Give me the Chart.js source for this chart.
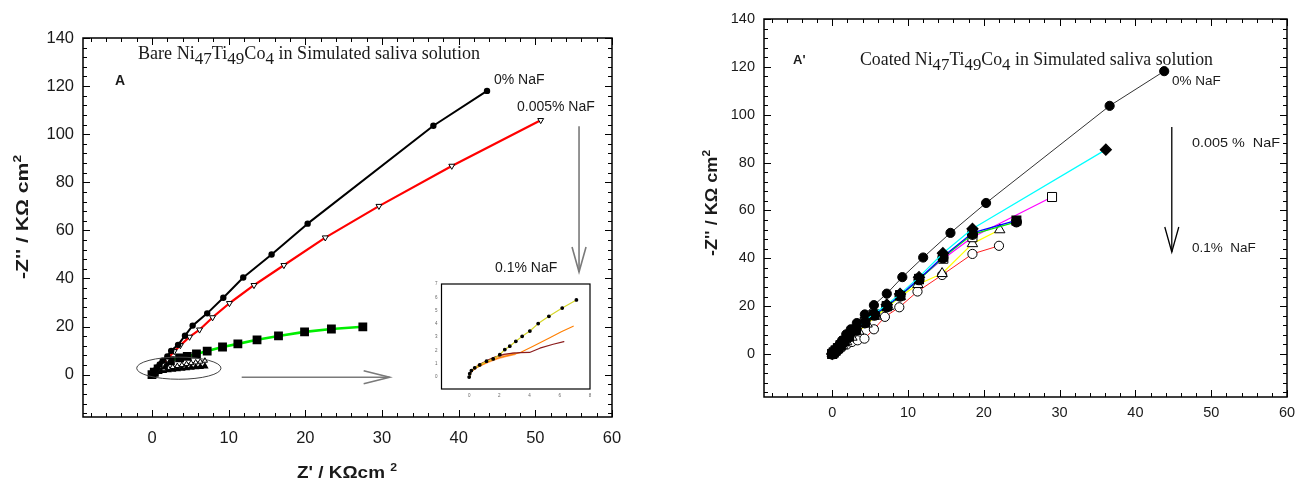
<!DOCTYPE html>
<html>
<head>
<meta charset="utf-8">
<script src="https://cdn.jsdelivr.net/npm/chart.js@4.4.1/dist/chart.umd.min.js"></script>
<style>
  html, body { margin: 0; padding: 0; background: #fff; }
  #wrap { position: relative; width: 1296px; height: 481px; overflow: hidden; background: #fff; }
  canvas { position: absolute; }
</style>
</head>
<body>
<div id="wrap">
  <canvas id="bare" width="648" height="481" style="left:0;top:0"></canvas>
  <canvas id="inset" width="180" height="130" style="left:420px;top:270px"></canvas>
  <canvas id="coated" width="648" height="481" style="left:648px;top:0"></canvas>
</div>
<script>
// ---- Panel A: bare Ni47Ti49Co4, Nyquist data (Z' , -Z'' in kOhm cm2) ----
const bare0X   = [0, 0.2, 0.4, 0.7, 1.0, 1.4, 2.0, 2.5, 3.4, 4.3, 5.3, 7.2, 9.3, 11.9, 15.6, 20.3, 36.7, 43.7];
const bare0Y   = [0, 0.8, 1.8, 3.0, 4.3, 5.8, 7.6, 9.9, 12.4, 16.2, 20.4, 25.5, 32.0, 40.4, 50.0, 62.8, 103.5, 118.0];
const bare005X = [0, 0.2, 0.5, 0.9, 1.4, 2.0, 2.9, 3.7, 4.9, 6.2, 7.9, 10.1, 13.3, 17.2, 22.6, 29.6, 39.1, 50.7];
const bare005Y = [0, 0.6, 1.5, 2.8, 4.4, 6.5, 9.7, 12.2, 15.7, 18.7, 23.8, 29.7, 37.2, 45.5, 57.0, 70.1, 86.8, 105.8];
const bare01X  = [0, 0.3, 0.8, 1.5, 2.4, 3.6, 4.6, 5.8, 7.2, 9.2, 11.2, 13.7, 16.5, 19.9, 23.4, 27.5];
const bare01Y  = [0, 1.0, 2.4, 4.0, 5.8, 7.0, 7.6, 8.6, 9.8, 11.5, 12.8, 14.5, 16.1, 17.8, 19.0, 19.9];
const bareLowX  = [0, 0.4, 0.9, 1.5, 2.1, 2.7, 3.3, 3.9, 4.5, 5.1, 5.7, 6.3, 6.9];
const bareLowAY = [0, 0.7, 1.2, 1.6, 1.9, 2.1, 2.3, 2.5, 2.7, 2.9, 3.1, 3.3, 3.5];
const bareLowBY = [0, 0.9, 1.7, 2.3, 2.8, 3.2, 3.6, 4.0, 4.4, 4.8, 5.1, 5.4, 5.8];
const bareXTicks = [0, 10, 20, 30, 40, 50, 60];
const bareYTicks = [0, 20, 40, 60, 80, 100, 120, 140];

// ---- Inset: low-impedance region of the higher NaF curves ----
const insetYelX = [0, 0.04, 0.15, 0.37, 0.7, 1.15, 1.59, 2.03, 2.36, 2.69, 3.09, 3.51, 4.02, 4.57, 5.28, 6.16, 7.1];
const insetYelY = [0, 0.25, 0.49, 0.69, 0.91, 1.19, 1.36, 1.68, 2.07, 2.32, 2.69, 3.06, 3.46, 4.02, 4.57, 5.19, 5.8];
const insetOrgX = [0, 0.05, 0.2, 0.5, 0.9, 1.4, 2.0, 2.7, 3.36, 4.2, 5.34, 6.1, 6.89];
const insetOrgY = [0, 0.2, 0.45, 0.7, 0.95, 1.2, 1.45, 1.65, 1.83, 2.3, 2.96, 3.4, 3.83];
const insetPchX = [0.6, 1.2, 1.8, 2.4, 3.0];
const insetPchY = [0.85, 1.15, 1.4, 1.6, 1.75];
const insetRedX = [0, 0.1, 0.3, 0.7, 1.2, 1.7, 2.3, 2.9, 3.36, 4.0, 4.68, 5.56, 6.27];
const insetRedY = [0, 0.35, 0.65, 0.95, 1.25, 1.5, 1.7, 1.8, 1.83, 1.85, 2.17, 2.47, 2.67];
const insetXTicks = [0, 2, 4, 6, 8];
const insetYTicks = [0, 1, 2, 3, 4, 5, 6, 7];

// ---- Panel A': coated Ni47Ti49Co4 ----
const coat0X   = [0, 0.15, 0.35, 0.6, 0.9, 1.3, 1.85, 2.45, 3.25, 4.3, 5.5, 7.2, 9.25, 12.0, 15.6, 20.3, 36.6, 43.8];
const coat0Y   = [0, 0.6, 1.4, 2.4, 3.6, 5.6, 8.2, 10.3, 12.9, 16.5, 20.4, 25.2, 32.1, 40.3, 50.6, 63.1, 103.7, 118.2];
const coatCyX  = [0, 0.2, 0.45, 0.75, 1.1, 1.6, 2.2, 3.1, 4.3, 5.55, 7.2, 8.95, 11.45, 14.6, 18.5, 36.1];
const coatCyY  = [0, 0.6, 1.5, 2.5, 3.8, 5.6, 7.8, 10.6, 13.9, 17.0, 20.6, 25.1, 32.1, 42.1, 52.3, 85.4];
const coatMgX  = [0, 0.2, 0.45, 0.75, 1.1, 1.6, 2.2, 3.1, 4.3, 5.55, 7.2, 8.95, 11.45, 14.66, 18.5, 29.0];
const coatMgY  = [0, 0.6, 1.4, 2.4, 3.6, 5.3, 7.4, 10.1, 13.3, 16.5, 20.0, 24.6, 31.4, 39.8, 48.8, 65.6];
const coatBlX  = [0, 0.2, 0.45, 0.75, 1.1, 1.6, 2.2, 3.1, 4.3, 5.55, 7.2, 8.95, 11.45, 14.6, 18.5, 24.3];
const coatBlY  = [0, 0.6, 1.4, 2.4, 3.6, 5.3, 7.3, 10.0, 13.2, 16.4, 19.9, 24.4, 31.2, 40.6, 50.6, 55.8];
const coatGrY  = [0, 0.6, 1.4, 2.3, 3.5, 5.2, 7.2, 9.9, 13.0, 16.2, 19.7, 24.2, 31.0, 40.2, 50.0, 55.2];
const coatYeX  = [0, 0.25, 0.55, 0.9, 1.35, 1.9, 2.6, 3.5, 4.6, 5.8, 7.4, 9.0, 11.3, 14.5, 18.5, 22.1];
const coatYeY  = [0, 0.6, 1.4, 2.4, 3.6, 5.1, 7.0, 9.5, 12.5, 15.8, 19.8, 24.0, 29.0, 33.6, 46.1, 51.9];
const coatRdX  = [0, 0.3, 0.7, 1.2, 1.9, 2.6, 3.35, 4.25, 5.5, 6.95, 8.85, 11.25, 14.5, 18.5, 22.0];
const coatRdY  = [0, 0.6, 1.5, 2.6, 3.9, 5.0, 5.7, 6.4, 10.3, 15.5, 19.5, 26.1, 33.0, 41.8, 45.2];
const coatXTicks = [0, 10, 20, 30, 40, 50, 60];
const coatYTicks = [0, 20, 40, 60, 80, 100, 120, 140];

const SANS = '"Liberation Sans", Arial, sans-serif';
const SERIF = '"Liberation Serif", "Times New Roman", serif';

function toPts(xs, ys) { return xs.map((x, i) => ({ x, y: ys[i] })); }
function series(xs, ys, o) {
  return Object.assign({ data: toPts(xs, ys), showLine: true, fill: false, tension: 0, pointHoverRadius: 0 }, o);
}
function fixedTicks(values) { return s => { s.ticks = values.map(v => ({ value: v })); }; }
// fixed scale box size, no extra room requested for overhanging labels
function fixedBox(prop, size) {
  return s => { s[prop] = size; s.paddingLeft = 0; s.paddingRight = 0; s.paddingTop = 0; s.paddingBottom = 0; };
}

function seg(ctx, x1, y1, x2, y2) { ctx.beginPath(); ctx.moveTo(x1, y1); ctx.lineTo(x2, y2); ctx.stroke(); }

// box around the plot area with inward ticks on all four sides
function drawFrame(chart, o) {
  const { ctx, chartArea: a, scales: { x, y } } = chart;
  ctx.save();
  ctx.strokeStyle = '#000';
  ctx.lineWidth = o.frameWidth;
  ctx.strokeRect(a.left, a.top, a.right - a.left, a.bottom - a.top);
  ctx.lineWidth = 1;
  const i0x = Math.ceil(x.min / o.xMinor - 1e-9), i1x = Math.floor(x.max / o.xMinor + 1e-9);
  for (let i = i0x; i <= i1x; i++) {
    const v = i * o.xMinor, p = Math.round(x.getPixelForValue(v)) + 0.5;
    const L = Math.abs(v / o.xMajor - Math.round(v / o.xMajor)) < 1e-6 ? o.major : o.minor;
    seg(ctx, p, a.bottom, p, a.bottom - L);
    seg(ctx, p, a.top, p, a.top + L);
  }
  const i0y = Math.ceil(y.min / o.yMinor - 1e-9), i1y = Math.floor(y.max / o.yMinor + 1e-9);
  for (let i = i0y; i <= i1y; i++) {
    const v = i * o.yMinor, p = Math.round(y.getPixelForValue(v)) + 0.5;
    const L = Math.abs(v / o.yMajor - Math.round(v / o.yMajor)) < 1e-6 ? o.major : o.minor;
    seg(ctx, a.left, p, a.left + L, p);
    seg(ctx, a.right, p, a.right - L, p);
  }
  ctx.restore();
}

// text made of runs with their own font and baseline shift; optional fitted width
function runsWidth(ctx, runs) {
  let w = 0;
  for (const r of runs) { ctx.font = r.f; w += ctx.measureText(r.t).width + (r.gap || 0); }
  return w;
}
function drawRuns(ctx, runs, x, y, align, width) {
  const natural = runsWidth(ctx, runs);
  const sx = width ? width / natural : 1;
  const total = natural * sx;
  const startX = align === 'center' ? x - total / 2 : x;
  ctx.save();
  ctx.translate(startX, y);
  ctx.scale(sx, 1);
  ctx.textAlign = 'left';
  ctx.textBaseline = 'alphabetic';
  let cx = 0;
  for (const r of runs) {
    ctx.font = r.f;
    ctx.fillText(r.t, cx, r.dy || 0);
    cx += ctx.measureText(r.t).width + (r.gap || 0);
  }
  ctx.restore();
}
function drawRunsRotated(ctx, runs, bx, cy, width) {
  ctx.save();
  ctx.translate(bx, cy);
  ctx.rotate(-Math.PI / 2);
  drawRuns(ctx, runs, 0, 0, 'center', width);
  ctx.restore();
}

function arrowDown(ctx, x, y1, y2, head, half) {
  seg(ctx, x, y1, x, y2);
  ctx.beginPath();
  ctx.moveTo(x - half, y2 - head); ctx.lineTo(x, y2); ctx.lineTo(x + half, y2 - head);
  ctx.stroke();
}
function arrowRight(ctx, x1, x2, y, head, half) {
  seg(ctx, x1, y, x2, y);
  ctx.beginPath();
  ctx.moveTo(x2 - head, y - half); ctx.lineTo(x2, y); ctx.lineTo(x2 - head, y + half);
  ctx.stroke();
}

function titleRuns(word, size) {
  const f = `${size}px ${SERIF}`, fs = `${size - 1}px ${SERIF}`, d = Math.round(size * 0.27);
  return [
    { t: word + ' Ni', f }, { t: '47', f: fs, dy: d },
    { t: 'Ti', f }, { t: '49', f: fs, dy: d },
    { t: 'Co', f }, { t: '4', f: fs, dy: d },
    { t: ' in Simulated saliva solution', f }
  ];
}

function scaleOpts(min, max, ticks, fontSize, pad, fit) {
  return {
    type: 'linear', min, max,
    afterBuildTicks: fixedTicks(ticks),
    afterFit: fit,
    grid: { display: false, drawTicks: false },
    border: { display: false },
    ticks: { color: '#1a1a1a', font: { family: SANS, size: fontSize }, padding: pad }
  };
}

const common = {
  type: 'scatter',
  options: {
    responsive: false, animation: false, devicePixelRatio: 1,
    plugins: { legend: { display: false }, tooltip: { enabled: false } },
    elements: { line: { borderCapStyle: 'round', borderJoinStyle: 'round' } }
  }
};

// ---------- Panel A ----------
const bareDecor = {
  id: 'bareDecor',
  afterDraw(chart) {
    const { ctx, scales: { x, y } } = chart;
    drawFrame(chart, { frameWidth: 1.5, xMinor: 2, xMajor: 10, yMinor: 4, yMajor: 20, major: 7, minor: 4 });
    ctx.save();
    ctx.fillStyle = '#1a1a1a';
    // ellipse around the low-impedance curves
    ctx.strokeStyle = '#444'; ctx.lineWidth = 1;
    const ex = x.getPixelForValue(3.5), ey = y.getPixelForValue(2.7);
    ctx.beginPath();
    ctx.ellipse(ex, ey, x.getPixelForValue(9.0) - ex, y.getPixelForValue(-1.9) - ey, 0, 0, Math.PI * 2);
    ctx.stroke();
    // arrows
    ctx.strokeStyle = '#7a7a7a'; ctx.lineWidth = 1.6;
    arrowRight(ctx, x.getPixelForValue(11.7), x.getPixelForValue(31.0), y.getPixelForValue(-1.1), 26, 6.5);
    arrowDown(ctx, x.getPixelForValue(55.7), y.getPixelForValue(103.3), y.getPixelForValue(42.7), 25, 7);
    // labels
    drawRuns(ctx, titleRuns('Bare', 18), 138, 59, 'left', 342);
    drawRuns(ctx, [{ t: 'A', f: `bold 14px ${SANS}` }], 115, 84.5);
    const lf = `14px ${SANS}`;
    drawRuns(ctx, [{ t: '0% NaF', f: lf }], 494, 84);
    drawRuns(ctx, [{ t: '0.005% NaF', f: lf }], 517, 110.5);
    drawRuns(ctx, [{ t: '0.1% NaF', f: lf }], 495, 271.5);
    // axis titles
    const bf = `bold 17px ${SANS}`, sf = `bold 11px ${SANS}`;
    drawRuns(ctx, [{ t: "Z' / K\u03A9cm ", f: bf }, { t: '2', f: sf, dy: -7 }], 347, 478, 'center', 100);
    drawRunsRotated(ctx, [{ t: "-Z'' / K\u03A9 cm", f: bf }, { t: '2', f: sf, dy: -7 }], 28, 217, 124);
    ctx.restore();
  }
};

new Chart(document.getElementById('bare'), {
  ...common,
  data: {
    datasets: [
      series(bare0X, bare0Y, { borderColor: '#000', borderWidth: 2, pointStyle: 'circle', pointRadius: 2.2,
        pointBackgroundColor: '#000', pointBorderColor: '#000', order: 0 }),
      series(bare005X, bare005Y, { borderColor: '#ff0000', borderWidth: 2.2, pointStyle: 'triangle', rotation: 180,
        pointRadius: 3.4, pointBackgroundColor: '#fff', pointBorderColor: '#000', pointBorderWidth: 1, order: 1 }),
      series(bare01X, bare01Y, { borderColor: '#00ee00', borderWidth: 2.6, pointStyle: 'rect', pointRadius: 4.4,
        pointBackgroundColor: '#000', pointBorderColor: '#000', order: 2 }),
      series(bareLowX, bareLowBY, { borderColor: '#000', borderWidth: 1.2, pointStyle: 'triangle', pointRadius: 3,
        pointBackgroundColor: '#fff', pointBorderColor: '#000', pointBorderWidth: 1, order: 3 }),
      series(bareLowX, bareLowAY, { borderColor: '#000', borderWidth: 1.5, pointStyle: 'triangle', pointRadius: 2.8,
        pointBackgroundColor: '#000', pointBorderColor: '#000', order: 4 })
    ]
  },
  options: {
    ...common.options,
    layout: { padding: { top: 38, right: 36, left: 0, bottom: 0 } },
    scales: {
      x: scaleOpts(-9, 60, bareXTicks, 16.5, 12, fixedBox('height', 64)),
      y: scaleOpts(-17.6, 140, bareYTicks, 16.5, 9, fixedBox('width', 83))
    }
  },
  plugins: [bareDecor]
});

// ---------- Inset ----------
const insetDecor = {
  id: 'insetDecor',
  afterDraw(chart) {
    const { ctx, chartArea: a } = chart;
    ctx.save();
    ctx.strokeStyle = '#000'; ctx.lineWidth = 1.2;
    ctx.strokeRect(a.left, a.top, a.right - a.left, a.bottom - a.top);
    ctx.restore();
  }
};

new Chart(document.getElementById('inset'), {
  ...common,
  data: {
    datasets: [
      series(insetYelX, insetYelY, { borderColor: '#d6d62a', borderWidth: 1.2, pointStyle: 'circle', pointRadius: 1.3,
        pointBackgroundColor: '#000', pointBorderColor: '#000', order: 0 }),
      series(insetRedX, insetRedY, { borderColor: '#8b1c1c', borderWidth: 1.2, pointRadius: 0, order: 1 }),
      series(insetOrgX, insetOrgY, { borderColor: '#ff7f00', borderWidth: 1.1, pointRadius: 0, order: 2 }),
      series(insetPchX, insetPchY, { borderColor: '#ffb07a', borderWidth: 3, pointRadius: 0, order: 3 })
    ]
  },
  options: {
    ...common.options,
    layout: { padding: { top: 14, right: 10, left: 0, bottom: 0 } },
    scales: {
      x: Object.assign(scaleOpts(-1.83, 8, insetXTicks, 4.5, 4, fixedBox('height', 11)),
        { ticks: { color: '#666', font: { family: SANS, size: 4.5 }, padding: 4 } }),
      y: Object.assign(scaleOpts(-0.9, 7, insetYTicks, 4.5, 4, fixedBox('width', 21.5)),
        { ticks: { color: '#666', font: { family: SANS, size: 4.5 }, padding: 4 } })
    }
  },
  plugins: [insetDecor]
});

// ---------- Panel A' ----------
const coatDecor = {
  id: 'coatDecor',
  afterDraw(chart) {
    const { ctx, scales: { x, y } } = chart;
    drawFrame(chart, { frameWidth: 1.5, xMinor: 2, xMajor: 10, yMinor: 4, yMajor: 20, major: 7, minor: 4 });
    ctx.save();
    ctx.fillStyle = '#1a1a1a';
    ctx.strokeStyle = '#000'; ctx.lineWidth = 1.3;
    arrowDown(ctx, x.getPixelForValue(44.8), y.getPixelForValue(94.9), y.getPixelForValue(42.6), 25, 7);
    drawRuns(ctx, titleRuns('Coated', 18), 212, 65, 'left', 353);
    drawRuns(ctx, [{ t: "A'", f: `bold 13px ${SANS}` }], 145, 63.5);
    const lf = `13.5px ${SANS}`;
    drawRuns(ctx, [{ t: '0% NaF', f: lf }], 524, 85);
    drawRuns(ctx, [{ t: '0.005 %  NaF', f: lf }], 544, 147, 'left', 88);
    drawRuns(ctx, [{ t: '0.1%  NaF', f: lf }], 544, 251.5);
    const bf = `bold 16px ${SANS}`, sf = `bold 10.5px ${SANS}`;
    drawRunsRotated(ctx, [{ t: "-Z'' / K\u03A9 cm", f: bf }, { t: '2', f: sf, dy: -7 }], 69, 203, 106);
    ctx.restore();
  }
};

new Chart(document.getElementById('coated'), {
  ...common,
  data: {
    datasets: [
      series(coat0X, coat0Y, { borderColor: '#333', borderWidth: 1, pointStyle: 'circle', pointRadius: 4.6,
        pointBackgroundColor: '#000', pointBorderColor: '#000', order: 0 }),
      series(coatCyX, coatCyY, { borderColor: '#00ffff', borderWidth: 1.2, pointStyle: 'rectRot', pointRadius: 5.5,
        pointBackgroundColor: '#000', pointBorderColor: '#000', order: 1 }),
      series(coatBlX, coatBlY, { borderColor: '#0000ff', borderWidth: 1.2, pointStyle: 'rect', pointRadius: 6.2,
        pointBackgroundColor: '#000', pointBorderColor: '#000', order: 2 }),
      series(coatBlX, coatGrY, { borderColor: '#00ee00', borderWidth: 1.2, pointStyle: 'circle', pointRadius: 5,
        pointBackgroundColor: '#000', pointBorderColor: '#000', order: 3 }),
      series(coatMgX, coatMgY, { borderColor: '#ff00ff', borderWidth: 1.2, pointStyle: 'rect', pointRadius: 6.4,
        pointBackgroundColor: '#fff', pointBorderColor: '#000', pointBorderWidth: 1, order: 4 }),
      series(coatYeX, coatYeY, { borderColor: '#ffff00', borderWidth: 1.2, pointStyle: 'triangle', pointRadius: 6,
        pointBackgroundColor: '#fff', pointBorderColor: '#000', pointBorderWidth: 1, order: 5 }),
      series(coatRdX, coatRdY, { borderColor: '#ff2020', borderWidth: 1, pointStyle: 'circle', pointRadius: 4.6,
        pointBackgroundColor: '#fff', pointBorderColor: '#000', pointBorderWidth: 1, order: 6 })
    ]
  },
  options: {
    ...common.options,
    layout: { padding: { top: 19, right: 9, left: 0, bottom: 0 } },
    scales: {
      x: scaleOpts(-9, 60, coatXTicks, 14.5, 7, fixedBox('height', 84)),
      y: scaleOpts(-18, 140, coatYTicks, 14.5, 9, fixedBox('width', 116))
    }
  },
  plugins: [coatDecor]
});
</script>
</body>
</html>
